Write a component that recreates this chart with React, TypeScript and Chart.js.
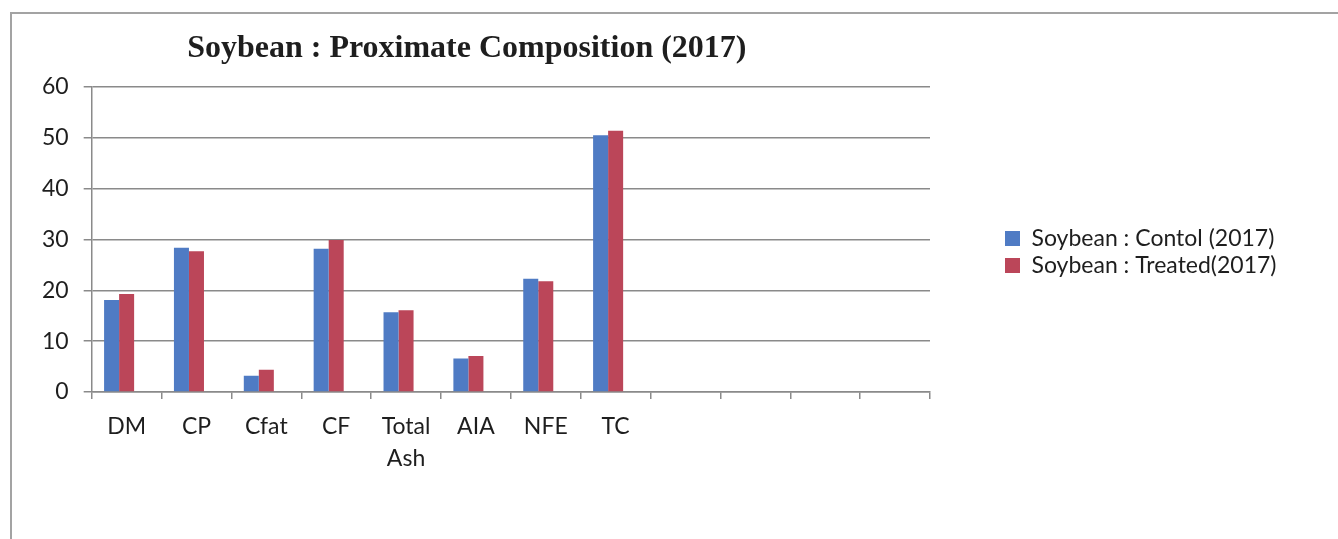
import React, { useEffect, useRef } from "react";
import { Chart, registerables } from "chart.js";

Chart.register(...registerables);

const chartTitle = "Soybean : Proximate Composition (2017)";
const categories: (string | string[])[] = ["DM", "CP", "Cfat", "CF", ["Total", "Ash"], "AIA", "NFE", "TC", "", "", "", ""];
const seriesNames = ["Soybean : Contol (2017)", "Soybean : Treated(2017)"];
const controlValues = [18.1, 28.4, 3.2, 28.2, 15.7, 6.6, 22.3, 50.5];
const treatedValues = [19.3, 27.7, 4.4, 29.9, 16.1, 7.1, 21.8, 51.4];
const emptySeriesValues: number[] = [];
const yMin = 0;
const yMax = 60;
const yStep = 10;

const BLUE = "#4F7BC4";
const RED = "#BB4659";
const GRID = "#8a8a8a";
const TEXT = "#1e1e1e";
const SANS = "Lato";
const FONT_SIZE = 23;

const titlePlugin = {
  id: "offsetTitle",
  afterDraw(chart: any) {
    const { ctx, chartArea } = chart;
    ctx.save();
    ctx.font = "bold 32px 'Liberation Serif'";
    ctx.fillStyle = TEXT;
    ctx.textAlign = "center";
    ctx.textBaseline = "alphabetic";
    const x = chartArea.left + (chartArea.right - chartArea.left) * 0.4475;
    ctx.fillText(chartTitle, x, chartArea.top - 30);
    ctx.restore();
  },
};

export default function App() {
  const ref = useRef<HTMLCanvasElement | null>(null);

  useEffect(() => {
    if (!ref.current) return;
    // measure legend text to size the right padding so the plot ends where the reference's does
    const mctx = document.createElement("canvas").getContext("2d")!;
    mctx.font = `${FONT_SIZE}px ${SANS}`;
    const textW = Math.max(...seriesNames.map((s) => mctx.measureText(s).width));
    const legendPad = 4;
    const boxW = 15;
    const legendW = legendPad + boxW + FONT_SIZE / 2 + textW;
    const spacerW = 71;
    const padRight = Math.max(0, 1338 - 940 - spacerW - legendW);

    const chart = new Chart(ref.current, {
      type: "bar",
      data: {
        labels: categories,
        datasets: [
          { label: seriesNames[0], data: controlValues, backgroundColor: BLUE, borderWidth: 0 },
          { label: seriesNames[1], data: treatedValues, backgroundColor: RED, borderWidth: 0 },
          { label: "", data: emptySeriesValues, backgroundColor: "transparent", borderWidth: 0 },
        ],
      },
      options: {
        animation: false,
        responsive: false,
        devicePixelRatio: 1,
        layout: { padding: { top: 87, left: 27, right: padRight, bottom: 52 } },
        datasets: { bar: { categoryPercentage: 0.645, barPercentage: 1 } },
        plugins: {
          title: { display: false },
          tooltip: { enabled: false },
          legend: {
            position: "right",
            fullSize: false,
            align: "center",
            maxWidth: 600,
            title: { display: true, text: "", padding: 0, font: { size: 20, lineHeight: 1.25 } },
            labels: {
              color: TEXT,
              font: { family: SANS, size: FONT_SIZE },
              boxWidth: boxW,
              boxHeight: 15,
              padding: legendPad,
              filter: (item: any) => item.datasetIndex < 2,
            },
          },
        },
        scales: {
          x: {
            grid: { display: true, drawOnChartArea: false, drawTicks: true, tickLength: 7, color: GRID, lineWidth: 1.5, offset: true },
            border: { display: true, color: GRID, width: 1.5 },
            ticks: { color: TEXT, font: { family: SANS, size: FONT_SIZE, lineHeight: 1.39 }, padding: 12, maxRotation: 0, autoSkip: false },
          },
          y: {
            min: yMin,
            max: yMax,
            ticks: { stepSize: yStep, color: TEXT, font: { family: SANS, size: FONT_SIZE }, padding: 15 },
            grid: { color: GRID, lineWidth: 1.5, tickLength: 8, drawTicks: true },
            border: { display: true, color: GRID, width: 1.5 },
          },
          spacer: {
            type: "linear",
            position: "right",
            display: true,
            grid: { display: false },
            border: { display: false },
            ticks: { display: false },
            afterFit: (s: any) => {
              s.width = spacerW;
            },
          },
        },
      } as any,
      plugins: [titlePlugin],
    });
    return () => chart.destroy();
  }, []);

  return (
    <div style={{ position: "absolute", left: 0, top: 0, width: 1338, height: 539, overflow: "hidden", background: "#fff" }}>
      <div
        style={{
          position: "absolute",
          left: 10,
          top: 12,
          width: 1400,
          height: 600,
          borderLeft: "2px solid #a3a3a3",
          borderTop: "2px solid #a3a3a3",
        }}
      />
      <canvas ref={ref} width={1338} height={539} style={{ position: "absolute", left: 0, top: 0 }} />
    </div>
  );
}
